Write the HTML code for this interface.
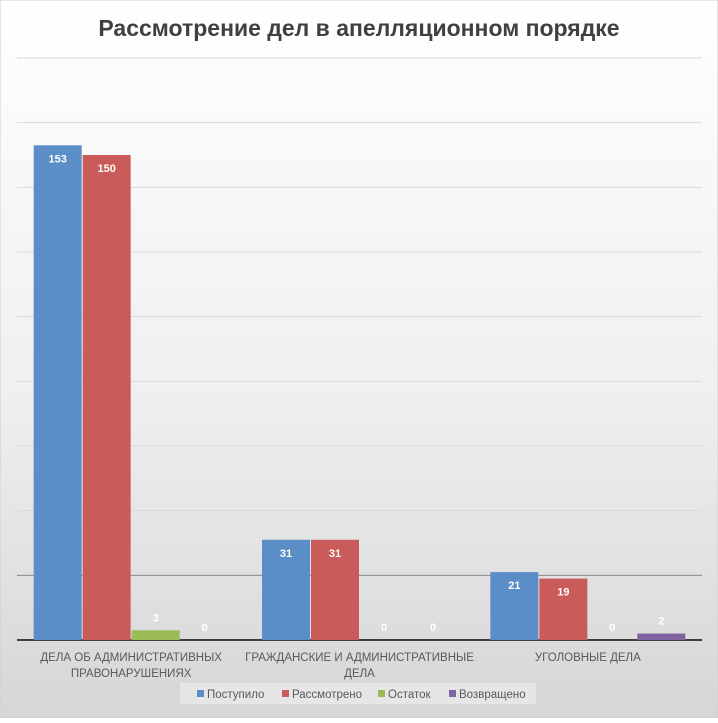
<!DOCTYPE html>
<html><head><meta charset="utf-8"><style>
html,body{margin:0;padding:0}
body{width:718px;height:718px;overflow:hidden;font-family:"Liberation Sans","DejaVu Sans",sans-serif}
</style></head><body>
<svg width="718" height="718" viewBox="0 0 718 718" xmlns="http://www.w3.org/2000/svg">
<defs><linearGradient id="bg" x1="0" y1="0" x2="0" y2="1"><stop offset="0" stop-color="#ffffff"/><stop offset="0.55" stop-color="#efefef"/><stop offset="1" stop-color="#d6d6d6"/></linearGradient></defs>
<rect x="0" y="0" width="718" height="718" fill="url(#bg)" stroke="#cfcfcf"/>
<text x="359" y="36" text-anchor="middle" font-size="23" font-weight="bold" fill="#404040">Рассмотрение дел в апелляционном порядке</text>
<g id="grid"></g><g id="bars"></g><g id="labels"></g><g id="cats"></g>
<g>
<rect x="180" y="683" width="356" height="21" fill="#e6e6e6"/>
<g id="legend"></g>
</g>
</svg>
<script>
const categories=[["ДЕЛА ОБ АДМИНИСТРАТИВНЫХ","ПРАВОНАРУШЕНИЯХ"],["ГРАЖДАНСКИЕ И АДМИНИСТРАТИВНЫЕ","ДЕЛА"],["УГОЛОВНЫЕ ДЕЛА"]];
const seriesNames=["Поступило","Рассмотрено","Остаток","Возвращено"];
const received=[153,31,21];
const reviewed=[150,31,19];
const remainder=[3,0,0];
const returned=[0,0,2];
const seriesData=[received,reviewed,remainder,returned];
const colors=["#5b8ec7","#c95c5a","#9bbb59","#8064a2"];
const gridTicks=[0,20,40,60,80,100,120,140,160,180];
const NS="http://www.w3.org/2000/svg";
const plotL=17,plotR=702,base=640,topY=58,maxV=180;
const yS=v=>base-(v/maxV)*(base-topY);
const gw=(plotR-plotL)/3,bw=49;
const xS=(c,s)=>plotL+gw*c+gw/2-2*bw+s*bw;
function mk(t,a,p){const e=document.createElementNS(NS,t);for(const k in a)e.setAttribute(k,a[k]);p.appendChild(e);return e;}
const grid=document.getElementById('grid');
gridTicks.forEach(t=>{
 const l=mk('line',{x1:plotL,x2:plotR,y1:yS(t),y2:yS(t),stroke:t===0?'#404040':(t===20?'#8a8a8a':'#d9d9d9'),'stroke-width':t===0?2:1},grid);
 
 
});
const bars=document.getElementById('bars'),labs=document.getElementById('labels');
seriesData.forEach((arr,s)=>arr.forEach((v,c)=>{
 const r=mk('rect',{x:xS(c,s)+0.5,y:yS(v),width:bw-1,height:base-yS(v),fill:colors[s]},bars);
 
 
 const ty=v>=10?yS(v)+17:yS(v)-9;
 const t=mk('text',{x:xS(c,s)+bw/2,y:ty,'text-anchor':'middle','font-size':11,'font-weight':'bold',fill:'#ffffff'},labs);
 t.textContent=v;
 
 
}));
const cats=document.getElementById('cats');
categories.forEach((lines,c)=>lines.forEach((ln,i)=>{
 const t=mk('text',{x:plotL+gw*c+gw/2,y:661+i*16,'text-anchor':'middle','font-size':11.5,fill:'#595959'},cats);
 t.textContent=ln;
 
 
}));
const leg=document.getElementById('legend');
const lx=[197,282,378,449];
seriesNames.forEach((n,i)=>{
 const r=mk('rect',{x:lx[i],y:690,width:7,height:7,fill:colors[i]},leg);
 
 
 const t=mk('text',{x:lx[i]+10,y:698,'font-size':11.5,fill:'#595959'},leg);
 t.textContent=n;
 
 
});
</script>
</body></html>
